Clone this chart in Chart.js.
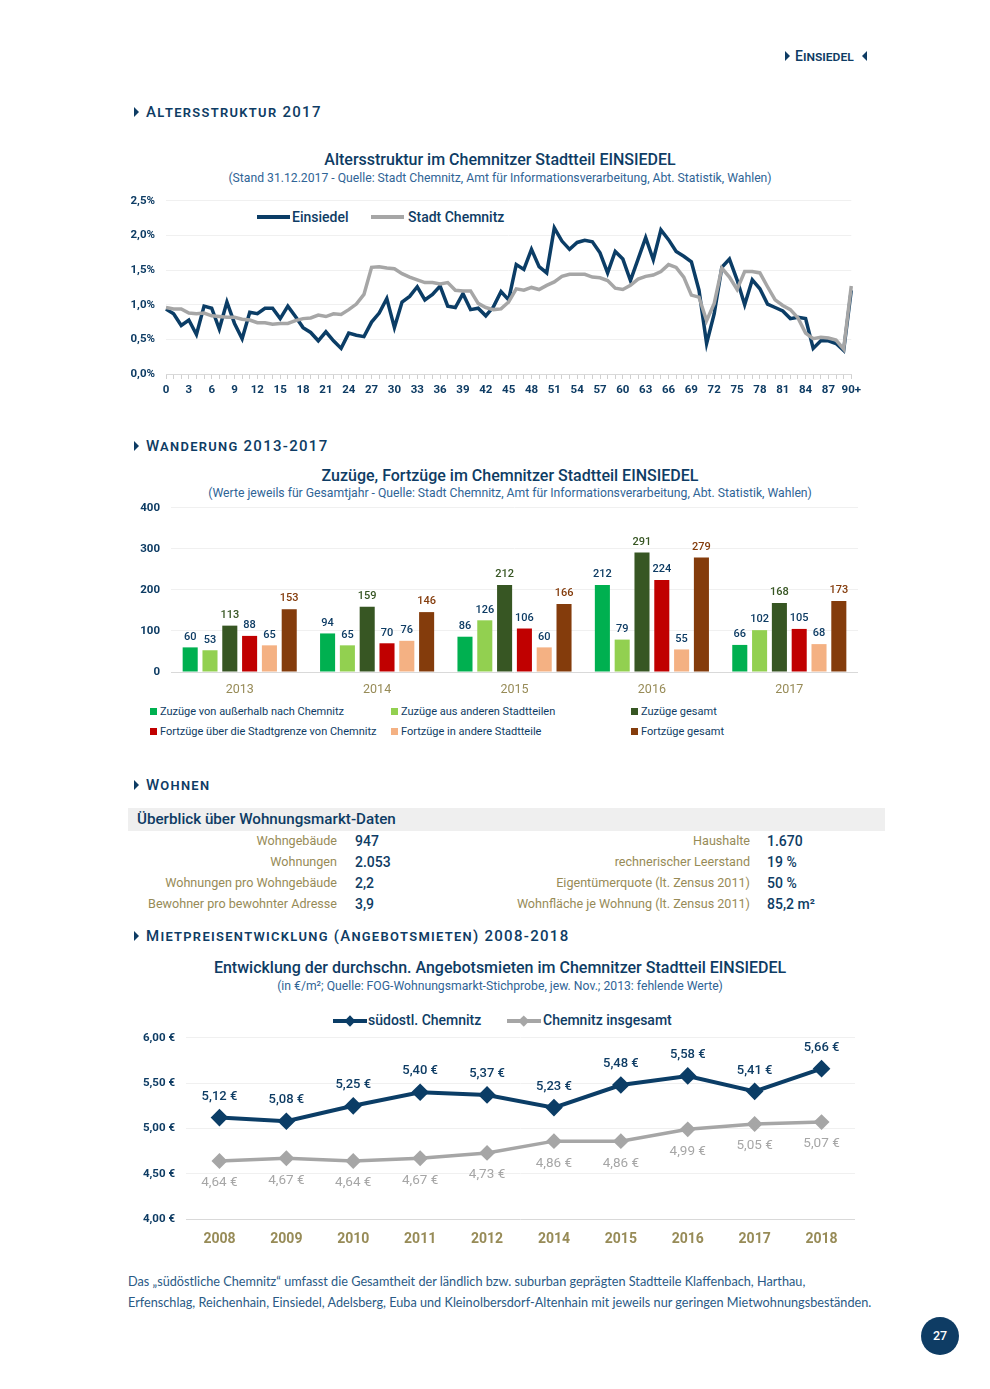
<!DOCTYPE html>
<html lang="de">
<head>
<meta charset="UTF-8">
<title>Einsiedel</title>
<script src="https://cdn.jsdelivr.net/npm/chart.js"></script>
<style>
    body { margin: 0; width: 990px; height: 1389px; background: #fff; position: relative; overflow: hidden;
           font-family: "Roboto", "Liberation Sans", sans-serif; color: #0E3C64; }
    .abs { position: absolute; white-space: nowrap; }
    .tri { position: absolute; width: 0; height: 0; border-top: 5px solid transparent; border-bottom: 5px solid transparent; }
    .tri.r { border-left: 5px solid #0E3C64; }
    .tri.l { border-right: 5px solid #0E3C64; }
    .sec { position: absolute; left: 146px; font-size: 15px; line-height: 20px; letter-spacing: 1.3px; font-variant: small-caps; font-weight: 500; white-space: nowrap; }
    .title { position: absolute; left: 5px; width: 990px; text-align: center; font-size: 16px; line-height: 20px; font-weight: 500; white-space: nowrap; }
    .sub { position: absolute; left: 5px; width: 990px; text-align: center; font-size: 12.2px; line-height: 16px; color: #2F6496; white-space: nowrap; }
    .box { position: absolute; }
    .lg { position: absolute; font-size: 11px; line-height: 14px; white-space: nowrap; }
    .lg i { display: inline-block; width: 7px; height: 7px; margin-right: 3px; vertical-align: 0px; }
    .lab { position: absolute; width: 400px; text-align: right; font-size: 12.6px; line-height: 18px; color: #978B57; white-space: nowrap; }
    .val { position: absolute; font-size: 14px; line-height: 18px; font-weight: 500; white-space: nowrap; }
    .txt { position: absolute; left: 128px; font-family: "Lato", "Open Sans", sans-serif; font-size: 12.7px; line-height: 16px; color: #2A5A85; white-space: nowrap; }
</style>
</head>
<body>

<!-- Kopfzeile -->
<div class="tri r" style="left:785px; top:51px;"></div>
<div class="abs" style="left:795px; top:46px; font-size:14px; line-height:20px; font-variant:small-caps; font-weight:500;">Einsiedel</div>
<div class="tri l" style="left:862px; top:51px;"></div>

<!-- Altersstruktur -->
<div class="tri r" style="left:134px; top:107px;"></div>
<div class="sec" style="top:102px;">Altersstruktur 2017</div>
<div class="title" style="top:150px;">Altersstruktur im Chemnitzer Stadtteil EINSIEDEL</div>
<div class="sub" style="top:170px;">(Stand 31.12.2017 - Quelle: Stadt Chemnitz, Amt für Informationsverarbeitung, Abt. Statistik, Wahlen)</div>
<div id="ageLegend"></div>
<div class="box" style="left:120px; top:183px; width:745px; height:219px;"><canvas id="ageChart"></canvas></div>

<!-- Wanderung -->
<div class="tri r" style="left:134px; top:441px;"></div>
<div class="sec" style="top:436px;">Wanderung 2013-2017</div>
<div class="title" style="top:466px; left:15px;">Zuzüge, Fortzüge im Chemnitzer Stadtteil EINSIEDEL</div>
<div class="sub" style="top:485px; left:15px;">(Werte jeweils für Gesamtjahr - Quelle: Stadt Chemnitz, Amt für Informationsverarbeitung, Abt. Statistik, Wahlen)</div>
<div class="box" style="left:120px; top:490px; width:745px; height:212px;"><canvas id="moveChart"></canvas></div>
<div id="moveLegend"></div>

<!-- Wohnen -->
<div class="tri r" style="left:134px; top:780px;"></div>
<div class="sec" style="top:775px;">Wohnen</div>
<div class="abs" style="left:128px; top:808px; width:757px; height:23px; background:#EFEFEF;"></div>
<div class="abs" style="left:137px; top:809px; font-size:15.2px; line-height:20px; font-weight:500;">Überblick über Wohnungsmarkt-Daten</div>
<div id="housing"></div>

<!-- Mietpreise -->
<div class="tri r" style="left:134px; top:931px;"></div>
<div class="sec" style="top:926px;">Mietpreisentwicklung (Angebotsmieten) 2008-2018</div>
<div class="title" style="top:958px;">Entwicklung der durchschn. Angebotsmieten im Chemnitzer Stadtteil EINSIEDEL</div>
<div class="sub" style="top:978px;">(in €/m²; Quelle: FOG-Wohnungsmarkt-Stichprobe, jew. Nov.; 2013: fehlende Werte)</div>
<div id="rentLegend"></div>
<div class="box" style="left:120px; top:1020px; width:745px; height:233px;"><canvas id="rentChart"></canvas></div>

<div class="txt" style="top:1273px;">Das „südöstliche Chemnitz“ umfasst die Gesamtheit der ländlich bzw. suburban geprägten Stadtteile Klaffenbach, Harthau,</div>
<div class="txt" style="top:1294px;">Erfenschlag, Reichenhain, Einsiedel, Adelsberg, Euba und Kleinolbersdorf-Altenhain mit jeweils nur geringen Mietwohnungsbeständen.</div>

<div class="abs" style="left:921px; top:1317px; width:38px; height:38px; border-radius:50%; background:#0E3C64; color:#fff; font-size:12.5px; font-weight:500; line-height:38px; text-align:center;">27</div>

<script>
    const NAVY = '#0E3C64';
    const LINE_NAVY = '#0B3D66';
    const GREY = '#A6A6A6';
    const OLIVE = '#978B57';
    const FONT = '"Roboto", "Liberation Sans", sans-serif';

    // Altersstruktur 2017 (Anteil in %)
    const ageLabels = [];
    for (let a = 0; a < 90; a++) ageLabels.push(String(a));
    ageLabels.push('90+');

    const einsiedel = [0.94, 0.87, 0.70, 0.78, 0.57, 0.98, 0.95, 0.65, 1.04, 0.73,
        0.51, 0.89, 0.87, 0.95, 0.95, 0.80, 0.98, 0.83, 0.67, 0.60,
        0.48, 0.61, 0.48, 0.37, 0.59, 0.56, 0.54, 0.75, 0.88, 1.09,
        0.67, 1.04, 1.12, 1.26, 1.07, 1.15, 1.27, 0.98, 0.96, 1.16,
        0.93, 0.95, 0.84, 0.97, 1.19, 1.07, 1.58, 1.51, 1.80, 1.55,
        1.46, 2.11, 1.92, 1.80, 1.90, 1.93, 1.91, 1.75, 1.46, 1.77,
        1.66, 1.35, 1.66, 1.97, 1.65, 2.08, 1.94, 1.77, 1.70, 1.62,
        1.21, 0.44, 0.87, 1.54, 1.66, 1.36, 1.00, 1.36, 1.23, 1.01,
        0.96, 0.91, 0.80, 0.82, 0.80, 0.37, 0.48, 0.48, 0.44, 0.34,
        1.21];

    const stadtChemnitz = [0.96, 0.94, 0.94, 0.88, 0.87, 0.88, 0.84, 0.83, 0.82, 0.82,
        0.79, 0.78, 0.74, 0.74, 0.72, 0.73, 0.73, 0.77, 0.80, 0.81,
        0.85, 0.83, 0.87, 0.86, 0.93, 1.01, 1.15, 1.54, 1.55, 1.53,
        1.52, 1.45, 1.40, 1.36, 1.32, 1.32, 1.30, 1.32, 1.21, 1.20,
        1.20, 1.02, 0.96, 0.93, 0.94, 1.04, 1.23, 1.21, 1.25, 1.22,
        1.28, 1.33, 1.41, 1.44, 1.44, 1.44, 1.40, 1.39, 1.35, 1.24,
        1.22, 1.28, 1.37, 1.41, 1.43, 1.48, 1.58, 1.54, 1.40, 1.14,
        1.11, 0.77, 1.02, 1.53, 1.40, 1.22, 1.48, 1.48, 1.46, 1.26,
        1.07, 0.99, 0.93, 0.81, 0.59, 0.51, 0.53, 0.52, 0.49, 0.36,
        1.27];

    // Wanderung 2013-2017
    const years = ['2013', '2014', '2015', '2016', '2017'];
    const zuzuegeAussen = [60, 94, 86, 212, 66];
    const zuzuegeStadtteile = [53, 65, 126, 79, 102];
    const zuzuegeGesamt = [113, 159, 212, 291, 168];
    const fortzuegeGrenze = [88, 70, 106, 224, 105];
    const fortzuegeStadtteile = [65, 76, 60, 55, 68];
    const fortzuegeGesamt = [153, 146, 166, 279, 173];

    // Wohnungsmarkt
    const housingLeft = [['Wohngebäude', '947'], ['Wohnungen', '2.053'], ['Wohnungen pro Wohngebäude', '2,2'], ['Bewohner pro bewohnter Adresse', '3,9']];
    const housingRight = [['Haushalte', '1.670'], ['rechnerischer Leerstand', '19 %'], ['Eigentümerquote (lt. Zensus 2011)', '50 %'], ['Wohnfläche je Wohnung (lt. Zensus 2011)', '85,2 m²']];

    // Angebotsmieten in €/m²
    const rentYears = ['2008', '2009', '2010', '2011', '2012', '2014', '2015', '2016', '2017', '2018'];
    const suedostChemnitz = [5.12, 5.08, 5.25, 5.40, 5.37, 5.23, 5.48, 5.58, 5.41, 5.66];
    const chemnitzGesamt = [4.64, 4.67, 4.64, 4.67, 4.73, 4.86, 4.86, 4.99, 5.05, 5.07];

    const comma = (v, d) => v.toFixed(d).replace('.', ',');

    // --- Altersstruktur ---
    new Chart(document.getElementById('ageChart'), {
        type: 'line',
        data: {
            labels: ageLabels,
            datasets: [
                { label: 'Einsiedel', data: einsiedel, borderColor: LINE_NAVY, borderWidth: 3.5, pointRadius: 0, order: 1 },
                { label: 'Stadt Chemnitz', data: stadtChemnitz, borderColor: GREY, borderWidth: 3.5, pointRadius: 0, order: 0 }
            ]
        },
        options: {
            responsive: true, maintainAspectRatio: false, animation: false,
            layout: { padding: { top: 0, right: 13, left: 0, bottom: 0 } },
            plugins: { legend: { display: false }, tooltip: { enabled: false } },
            scales: {
                x: {
                    grid: { drawOnChartArea: false, tickLength: 5, color: '#D0D0D0' },
                    border: { color: '#D9D9D9' },
                    ticks: {
                        autoSkip: false, maxRotation: 0, padding: 4, color: NAVY,
                        font: { family: FONT, size: 11.5, weight: 'bold' },
                        callback: (v, i) => i % 3 === 0 ? ageLabels[i] : ''
                    },
                    afterFit: s => { s.height = 28; }
                },
                y: {
                    min: 0, max: 2.5,
                    ticks: { stepSize: 0.5, padding: 11, color: NAVY, font: { family: FONT, size: 11.5, weight: 'bold' },
                        callback: v => comma(v, 1) + '%' },
                    grid: { drawTicks: false, color: c => c.tick.value === 0 ? '#D9D9D9' : '#F0F0F0' },
                    border: { display: false },
                    afterFit: s => { s.width = 46; }
                }
            }
        }
    });

    document.getElementById('ageLegend').innerHTML =
        '<div class="abs" style="left:257px; top:215px; width:33px; height:3.5px; background:' + LINE_NAVY + ';"></div>' +
        '<div class="abs" style="left:292px; top:208px; font-size:14px; line-height:18px; font-weight:500;">Einsiedel</div>' +
        '<div class="abs" style="left:371px; top:215px; width:33px; height:3.5px; background:' + GREY + ';"></div>' +
        '<div class="abs" style="left:408px; top:208px; font-size:14px; line-height:18px; font-weight:500;">Stadt Chemnitz</div>';

    // --- Wanderung ---
    const moveSeries = [
        { label: 'Zuzüge von außerhalb nach Chemnitz', data: zuzuegeAussen, color: '#00B050', text: NAVY },
        { label: 'Zuzüge aus anderen Stadtteilen', data: zuzuegeStadtteile, color: '#92D050', text: NAVY },
        { label: 'Zuzüge gesamt', data: zuzuegeGesamt, color: '#375623', text: '#375623' },
        { label: 'Fortzüge über die Stadtgrenze von Chemnitz', data: fortzuegeGrenze, color: '#C00000', text: NAVY },
        { label: 'Fortzüge in andere Stadtteile', data: fortzuegeStadtteile, color: '#F4B183', text: NAVY },
        { label: 'Fortzüge gesamt', data: fortzuegeGesamt, color: '#843C0C', text: '#843C0C' }
    ];

    const barLabels = {
        id: 'barLabels',
        afterDatasetsDraw(chart) {
            const ctx = chart.ctx;
            chart.data.datasets.forEach((ds, i) => {
                chart.getDatasetMeta(i).data.forEach((bar, j) => {
                    ctx.save();
                    ctx.fillStyle = ds.labelColor;
                    ctx.font = '500 11px ' + FONT;
                    ctx.textAlign = 'center';
                    ctx.textBaseline = 'bottom';
                    ctx.fillText(ds.data[j], bar.x, bar.y - 5);
                    ctx.restore();
                });
            });
        }
    };

    new Chart(document.getElementById('moveChart'), {
        type: 'bar',
        data: {
            labels: years,
            datasets: moveSeries.map(s => ({
                label: s.label, data: s.data, backgroundColor: s.color, labelColor: s.text,
                categoryPercentage: 0.865, barPercentage: 0.76
            }))
        },
        plugins: [barLabels],
        options: {
            responsive: true, maintainAspectRatio: false, animation: false,
            layout: { padding: { top: 0, right: 7, left: 0, bottom: 0 } },
            plugins: { legend: { display: false }, tooltip: { enabled: false } },
            scales: {
                x: {
                    grid: { display: false, drawTicks: false },
                    border: { display: false },
                    ticks: { padding: 10, color: OLIVE, font: { family: FONT, size: 12.5 } },
                    afterFit: s => { s.height = 30; }
                },
                y: {
                    min: 0, max: 400,
                    ticks: { stepSize: 100, padding: 11, color: NAVY, font: { family: FONT, size: 11.5, weight: 'bold' } },
                    grid: { drawTicks: false, color: c => c.tick.value === 0 ? '#D9D9D9' : '#F0F0F0' },
                    border: { display: false },
                    afterFit: s => { s.width = 51; }
                }
            }
        }
    });

    const legendCols = [150, 391, 631];
    const legendRows = [705, 725];
    document.getElementById('moveLegend').innerHTML = moveSeries.map((s, i) =>
        '<div class="lg" style="left:' + legendCols[i % 3] + 'px; top:' + legendRows[Math.floor(i / 3)] + 'px;"><i style="background:' + s.color + ';"></i>' + s.label + '</div>'
    ).join('');

    // --- Wohnungsmarkt ---
    const rowTops = [832, 853, 874, 895];
    let html = '';
    housingLeft.forEach((r, i) => {
        html += '<div class="lab" style="left:-63px; top:' + rowTops[i] + 'px;">' + r[0] + '</div>';
        html += '<div class="val" style="left:355px; top:' + rowTops[i] + 'px;">' + r[1] + '</div>';
    });
    housingRight.forEach((r, i) => {
        html += '<div class="lab" style="left:350px; top:' + rowTops[i] + 'px;">' + r[0] + '</div>';
        html += '<div class="val" style="left:767px; top:' + rowTops[i] + 'px;">' + r[1] + '</div>';
    });
    document.getElementById('housing').innerHTML = html;

    // --- Angebotsmieten ---
    const pointLabels = {
        id: 'pointLabels',
        afterDatasetsDraw(chart) {
            const ctx = chart.ctx;
            chart.data.datasets.forEach((ds, i) => {
                chart.getDatasetMeta(i).data.forEach((pt, j) => {
                    ctx.save();
                    ctx.fillStyle = ds.labelColor;
                    ctx.font = ds.labelFont + FONT;
                    ctx.textAlign = 'center';
                    ctx.textBaseline = 'middle';
                    ctx.fillText(comma(ds.data[j], 2) + ' €', pt.x, pt.y + ds.labelDy);
                    ctx.restore();
                });
            });
        }
    };

    new Chart(document.getElementById('rentChart'), {
        type: 'line',
        data: {
            labels: rentYears,
            datasets: [
                { label: 'südostl. Chemnitz', data: suedostChemnitz, borderColor: LINE_NAVY, backgroundColor: LINE_NAVY,
                  borderWidth: 4, pointStyle: 'rectRot', pointRadius: 6, labelColor: NAVY, labelDy: -21, labelFont: '500 13px ' },
                { label: 'Chemnitz insgesamt', data: chemnitzGesamt, borderColor: GREY, backgroundColor: GREY,
                  borderWidth: 3.5, pointStyle: 'rectRot', pointRadius: 5.5, labelColor: GREY, labelDy: 22, labelFont: '13.5px ' }
            ]
        },
        plugins: [pointLabels],
        options: {
            responsive: true, maintainAspectRatio: false, animation: false,
            layout: { padding: { top: 0, right: 10, left: 0, bottom: 0 } },
            plugins: { legend: { display: false }, tooltip: { enabled: false } },
            scales: {
                x: {
                    offset: true,
                    grid: { display: false, drawTicks: false },
                    border: { display: false },
                    ticks: { padding: 12, color: OLIVE, font: { family: FONT, size: 14, weight: 'bold' } },
                    afterFit: s => { s.height = 34; }
                },
                y: {
                    min: 4, max: 6,
                    ticks: { stepSize: 0.5, padding: 11, color: NAVY, font: { family: FONT, size: 11.5, weight: 'bold' },
                        callback: v => comma(v, 2) + ' €' },
                    grid: { drawTicks: false, color: c => c.tick.value === 4 ? '#D9D9D9' : '#F0F0F0' },
                    border: { display: false },
                    afterFit: s => { s.width = 66; }
                }
            }
        }
    });

    const diamond = (x, y, size, color) =>
        '<div class="abs" style="left:' + (x - size / 2) + 'px; top:' + (y - size / 2) + 'px; width:' + size + 'px; height:' + size + 'px; background:' + color + '; transform:rotate(45deg);"></div>';
    document.getElementById('rentLegend').innerHTML =
        '<div class="abs" style="left:333px; top:1019px; width:34px; height:4px; background:' + LINE_NAVY + ';"></div>' + diamond(350, 1021, 8, LINE_NAVY) +
        '<div class="abs" style="left:368px; top:1011px; font-size:14px; line-height:18px; font-weight:500;">südostl. Chemnitz</div>' +
        '<div class="abs" style="left:507px; top:1019px; width:34px; height:3.5px; background:' + GREY + ';"></div>' + diamond(524, 1021, 7.5, GREY) +
        '<div class="abs" style="left:543px; top:1011px; font-size:14px; line-height:18px; font-weight:500;">Chemnitz insgesamt</div>';
</script>
</body>
</html>
